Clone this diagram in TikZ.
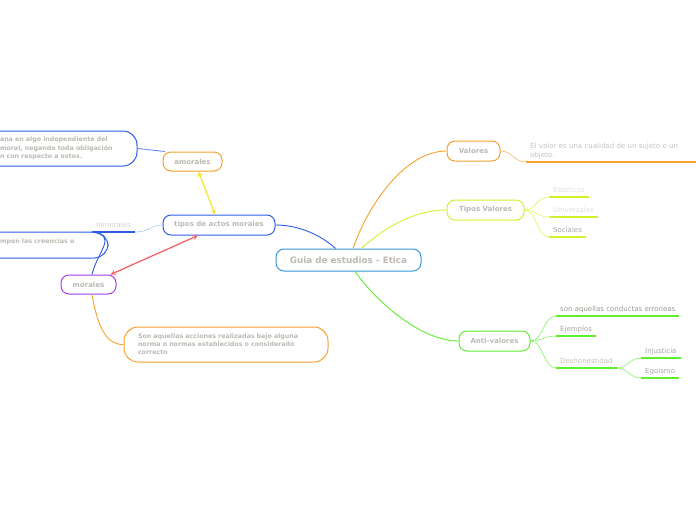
\documentclass[tikz,border=0pt]{standalone}
\usepackage{fontspec}
\setmainfont{DejaVu Sans}
\usetikzlibrary{positioning}

\definecolor{rootblue}{HTML}{3B95D9}
\definecolor{actblue}{HTML}{2B5CE6}
\definecolor{paleblue}{HTML}{8AA8F0}
\definecolor{mindorange}{HTML}{F7A12C}
\definecolor{arrowyellow}{HTML}{F5E63A}
\definecolor{arrowred}{HTML}{F5636B}
\definecolor{mindpurple}{HTML}{A83CF0}
\definecolor{mindlime}{HTML}{D2F22E}
\definecolor{mindgreen}{HTML}{5DEF2E}
\definecolor{txtgray}{HTML}{BDB9B3}
\definecolor{darkgray}{HTML}{9C9892}
\definecolor{midgray}{HTML}{A9A5A0}
\definecolor{softgray}{HTML}{C6C2BC}
\definecolor{faintgray}{HTML}{E0DED8}

\begin{document}
\begin{tikzpicture}[x=1pt,y=-1pt,>=stealth,
	topic/.style={draw, fill=white, rounded corners=8pt, line width=1pt, text=txtgray, inner sep=0pt, font=\fontsize{7}{8}\selectfont\bfseries},
	notebox/.style={draw, fill=white, rounded corners=14pt, line width=1pt, text=txtgray, align=left, font=\fontsize{6.3}{8}\selectfont\bfseries},
	leaf/.style={anchor=south west, inner xsep=4pt, inner ysep=3pt, text height=5.5pt, text depth=1.5pt, font=\fontsize{7}{8.5}\selectfont},
	uline/.style={line width=1.4pt},
	link/.style={line width=0.9pt}]
	\clip (0,0) rectangle (696,520);
	
	% Main topics
	\node[topic, draw=rootblue, minimum width=145pt, minimum height=22pt, font=\fontsize{8.8}{10}\selectfont\bfseries] (root) at (348.5,260) {Guia de estudios - Etica};
	\node[topic, draw=actblue, minimum width=112pt, minimum height=20pt] (tipos) at (219,225) {tipos de actos morales};
	\node[topic, draw=mindorange, minimum width=59pt, minimum height=19pt] (amorales) at (192.5,161.5) {amorales};
	\node[topic, draw=mindpurple, minimum width=55pt, minimum height=19pt] (morales) at (88.5,284.5) {morales};
	\node[topic, draw=mindorange, minimum width=53pt, minimum height=20pt] (valores) at (473.5,151) {Valores};
	\node[topic, draw=mindlime, minimum width=77pt, minimum height=20pt] (tiposval) at (485.5,210) {Tipos Valores};
	\node[topic, draw=mindgreen, minimum width=71pt, minimum height=20pt] (anti) at (494.5,341) {Anti-valores};
	
	% Notes on the left
	\node[notebox, draw=actblue, minimum width=153pt, minimum height=35pt, text width=121pt, inner xsep=16pt, font=\fontsize{6.3}{8.5}\selectfont\bfseries] (amordesc) at (60.5,148.5) {ana en algo independiente del\\ moral, negando toda obligación\\n con respecto a estos.};
	\node[notebox, draw=actblue, minimum width=124pt, minimum height=26pt, text width=92pt, inner xsep=16pt, text depth=7pt] (inmdesc) at (46,245) {mpen las creencias o};
	\node[notebox, draw=mindorange, minimum width=204pt, minimum height=35pt, text width=176pt, inner xsep=14pt] (moradesc) at (226,344.5) {Son aquellas acciones realizadas bajo alguna\\norma o normas establecidos o considerado\\correcto};
	
	% Leaves
	\node[leaf, text=softgray!80] (inm) at (92,232) {Inmorales};
	\node[leaf, text=softgray, text height=, text depth=, text width=166pt, align=left] (valdesc) at (526,162) {El valor es una cualidad de un sujeto o un\\objeto.};
	\node[leaf, text=faintgray] (estet) at (549,197) {Esteticos};
	\node[leaf, text=faintgray] (univ) at (549,217) {Universales};
	\node[leaf, text=midgray] (soc) at (549,237) {Sociales};
	\node[leaf, text=darkgray] (conduct) at (556,316) {son aquellas conductas erroneas};
	\node[leaf, text=midgray] (ejem) at (556,336) {Ejemplos};
	\node[leaf, text=softgray] (desh) at (556,368) {Deshonestidad};
	\node[leaf, text=midgray] (injus) at (641,358) {Injusticia};
	\node[leaf, text=midgray] (egois) at (641,378) {Egoismo};
	
	% Underlines
	\draw[uline, actblue] (inm.south west) -- (inm.south east);
	\draw[uline, mindorange] (valdesc.south west) -- (valdesc.south east);
	\foreach \n in {estet,univ,soc}
		\draw[uline, mindlime] (\n.south west) -- (\n.south east);
	\foreach \n in {conduct,ejem,desh,injus,egois}
		\draw[uline, mindgreen] (\n.south west) -- (\n.south east);
	
	% Branches from the root
	\draw[link, actblue] ([xshift=-13pt]root.north) .. controls (322,236) and (300,225) .. (tipos.east);
	\draw[link, mindorange] ([xshift=4.5pt]root.north) .. controls (368,205) and (405,151) .. (valores.west);
	\draw[link, mindlime] ([xshift=12.5pt]root.north) .. controls (380,232) and (410,210) .. (tiposval.west);
	\draw[link, mindgreen] ([xshift=6.5pt]root.south) .. controls (375,300) and (420,341) .. (anti.west);
	
	% Left side
	\draw[link, actblue!70] (amordesc.east) -- (amorales.160);
	\draw[thin, paleblue] (tipos.west) .. controls (150,225) and (150,232) .. (inm.south east);
	\draw[link, actblue] ([xshift=3.5pt]morales.north) .. controls (98,250) and (118,236) .. (inm.south west);
	\draw[link, mindorange] ([xshift=3.5pt]morales.south) .. controls (98,330) and (108,345) .. (moradesc.west);
	\draw[<->, line width=1.3pt, arrowyellow] ([xshift=6pt]amorales.south) -- ([xshift=-4pt]tipos.north);
	\draw[<->, line width=1.3pt, arrowred] ([xshift=-6pt]morales.north east) -- ([xshift=-21pt]tipos.south);
	
	% Right side
	\draw[thin, mindorange] (valores.east) .. controls +(12,0) and +(-12,0) .. (valdesc.south west);
	\foreach \n in {estet,univ,soc}
		\draw[thin, mindlime] (tiposval.east) .. controls +(12,0) and +(-12,0) .. (\n.south west);
	\foreach \n in {conduct,ejem,desh}
		\draw[thin, mindgreen] (anti.east) .. controls +(13,0) and +(-13,0) .. (\n.south west);
	\foreach \n in {injus,egois}
		\draw[thin, mindgreen] (desh.south east) .. controls +(12,0) and +(-12,0) .. (\n.south west);
\end{tikzpicture}
\end{document}
